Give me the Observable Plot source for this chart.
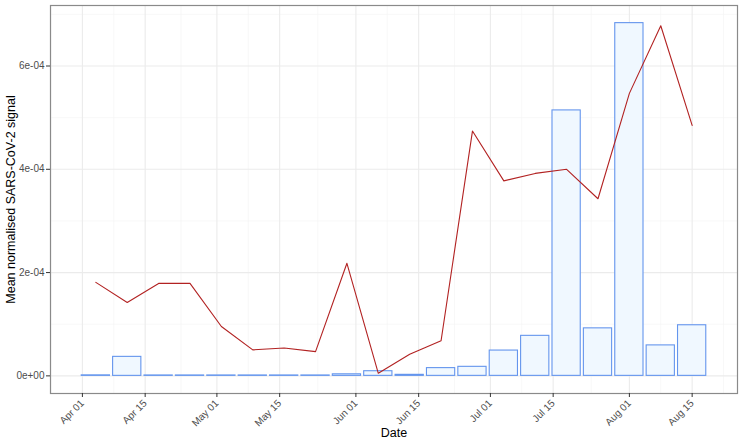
<!DOCTYPE html>
<html><head><meta charset="utf-8">
<script src="https://cdn.jsdelivr.net/npm/d3@7"></script>
<script src="https://cdn.jsdelivr.net/npm/@observablehq/plot@0.6"></script>
<style>body{margin:0;background:#fff;}</style>
</head><body><div id="chart"></div>
<script>
const weeks = ["2021-04-04","2021-04-11","2021-04-18","2021-04-25","2021-05-02","2021-05-09","2021-05-16","2021-05-23","2021-05-30","2021-06-06","2021-06-13","2021-06-20","2021-06-27","2021-07-04","2021-07-11","2021-07-18","2021-07-25","2021-08-01","2021-08-08","2021-08-15"];
const barValues = [0.000001,0.0000368,0.0000008,0.0000008,0.0000008,0.0000008,0.0000008,0.0000008,0.000003,0.000009,0.000002,0.000015,0.0000175,0.000049,0.0000775,0.000514,0.000092,0.000683,0.000059,0.000098];
const lineValues = [0.000181,0.000142,0.000179,0.000179,0.0000955,0.0000503,0.000054,0.000047,0.000218,0.000005,0.000042,0.000068,0.000474,0.0003775,0.000392,0.0004,0.000343,0.000547,0.000678,0.000485];
const xTickDates = ["2021-04-01","2021-04-15","2021-05-01","2021-05-15","2021-06-01","2021-06-15","2021-07-01","2021-07-15","2021-08-01","2021-08-15"];
const xTickLabels = ["Apr 01","Apr 15","May 01","May 15","Jun 01","Jun 15","Jul 01","Jul 15","Aug 01","Aug 15"];
const yTicks = [0, 0.0002, 0.0004, 0.0006];
const yTickLabels = ["0e+00","2e-04","4e-04","6e-04"];
const yMinor = [0.0001, 0.0003, 0.0005, 0.0007];

const DAY = 864e5;
const data = weeks.map((w, i) => ({date: new Date(w), bar: barValues[i], line: lineValues[i]}));
const half = 0.45 * 7 * DAY;
const x0 = +new Date(weeks[0]) - half, x1 = +new Date(weeks[weeks.length - 1]) + half;
const xDomain = [new Date(x0 - 0.05 * (x1 - x0)), new Date(x1 + 0.05 * (x1 - x0))];
const yMax = Math.max(d3.max(barValues), d3.max(lineValues));
const yDomain = [-0.05 * yMax, 1.05 * yMax];
const majorX = xTickDates.map(d => new Date(d));
const minorX = [];
minorX.push(new Date(+majorX[0] - (majorX[1] - majorX[0]) / 2));
for (let i = 0; i < majorX.length - 1; i++) minorX.push(new Date((+majorX[i] + +majorX[i + 1]) / 2));
minorX.push(new Date(+majorX[majorX.length - 1] + (majorX[1] - majorX[0]) / 2));

const chart = Plot.plot({
  width: 743, height: 445,
  marginLeft: 50, marginRight: 6, marginTop: 5, marginBottom: 52,
  style: {fontFamily: "'Liberation Sans', Arial, sans-serif", background: "#fff"},
  x: {type: "utc", domain: xDomain},
  y: {domain: yDomain},
  marks: [
    Plot.ruleX(minorX.filter(d => d >= xDomain[0] && d <= xDomain[1]), {stroke: "#f4f4f4", strokeWidth: 0.6}),
    Plot.ruleY(yMinor.filter(d => d <= yDomain[1]), {stroke: "#f4f4f4", strokeWidth: 0.6}),
    Plot.ruleX(majorX, {stroke: "#ebebeb", strokeWidth: 1.1}),
    Plot.ruleY(yTicks, {stroke: "#ebebeb", strokeWidth: 1.1}),
    Plot.rectY(data, {x1: d => new Date(+d.date - half), x2: d => new Date(+d.date + half), y1: 0, y2: "bar", fill: "#F0F8FF", stroke: "#6495ED", strokeWidth: 1.1}),
    Plot.line(data, {x: "date", y: "line", stroke: "#B22222", strokeWidth: 1.1}),
    Plot.frame({stroke: "#8a8a8a", strokeWidth: 1.2}),
    Plot.axisX({ticks: majorX, tickFormat: d => xTickLabels[majorX.findIndex(t => +t === +d)], tickRotate: -45, tickSize: 4, tickPadding: 4, fontSize: 10, stroke: "#333", fill: "#4d4d4d", label: null}),
    Plot.axisY({ticks: yTicks, tickFormat: d => yTickLabels[yTicks.indexOf(d)], tickSize: 4, tickPadding: 2, fontSize: 10, stroke: "#333", fill: "#4d4d4d", label: null}),
    Plot.text(["Date"], {frameAnchor: "bottom", dy: 43, fontSize: 12.5, fill: "#000"}),
    Plot.text(["Mean normalised SARS-CoV-2 signal"], {frameAnchor: "left", dx: -40, rotate: -90, textAnchor: "middle", fontSize: 12.5, fill: "#000"})
  ]
});
document.getElementById("chart").appendChild(chart);
</script>
</body></html>
